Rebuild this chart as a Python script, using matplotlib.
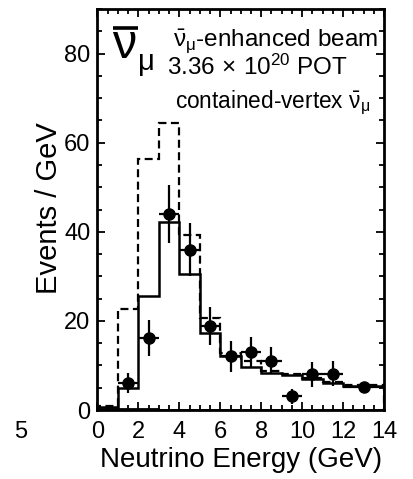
import numpy as np
import matplotlib
matplotlib.use("Agg")
import matplotlib.pyplot as plt
from matplotlib.ticker import MultipleLocator

plt.rcParams['font.family'] = ['Liberation Sans', 'DejaVu Sans']
plt.rcParams['mathtext.fontset'] = 'custom'
plt.rcParams['mathtext.rm'] = 'Liberation Sans'
plt.rcParams['mathtext.it'] = 'Liberation Sans'
plt.rcParams['mathtext.bf'] = 'Liberation Sans:bold'

# bin edges (GeV)
edges = [0, 1, 2, 3, 4, 5, 6, 7, 8, 9, 10, 11, 12, 14]
# best-fit prediction (solid)
fit_pred = [0.6, 5.0, 25.6, 42.1, 30.6, 17.4, 12.1, 9.7, 8.4, 7.8, 6.9, 6.0, 5.5]
# no-oscillation prediction (dashed)
no_osc = [0.9, 22.6, 56.4, 64.5, 39.4, 20.6, 12.7, 11.0, 8.8, 8.0, 7.2, 6.3, 5.7]
# background (near zero)
bkg = [0.3, 0.3, 0.2, 0.1, 0.1, 0.1, 0.1, 0.1, 0.1, 0.1, 0.1, 0.1, 0.1]

# data points
data_x = [1.5, 2.5, 3.5, 4.5, 5.5, 6.5, 7.5, 8.5, 9.5, 10.5, 11.5, 13.0]
data_xerr = [0.5, 0.5, 0.5, 0.5, 0.5, 0.5, 0.5, 0.5, 0.5, 0.5, 0.5, 1.0]
data_y = [6.1, 16.1, 44.1, 36.0, 18.9, 12.1, 13.1, 11.1, 3.1, 8.0, 8.1, 5.1]
data_yerr = [2.2, 4.0, 6.5, 6.0, 4.3, 3.5, 3.4, 3.1, 1.7, 2.8, 2.8, 1.2]

fig = plt.figure(figsize=(4.14, 4.79), dpi=100)
ax = fig.add_axes([0.2355, 0.144, 0.692, 0.837])

ax.stairs(bkg, edges, color='black', lw=1.3)
ax.stairs(no_osc, edges, color='black', lw=1.6, linestyle=(0, (3.6, 2.0)))
ax.stairs(fit_pred, edges, color='black', lw=1.8)
ax.errorbar(data_x, data_y, xerr=data_xerr, yerr=data_yerr, fmt='o',
            color='black', ms=8, elinewidth=1.6, capsize=0)

ax.set_xlim(0, 14)
ax.set_ylim(0, 90)
ax.xaxis.set_major_locator(MultipleLocator(2))
ax.xaxis.set_minor_locator(MultipleLocator(0.5))
ax.yaxis.set_major_locator(MultipleLocator(20))
ax.yaxis.set_minor_locator(MultipleLocator(5))
ax.tick_params(which='both', direction='in', top=True, right=True,
               labelsize=17, width=1.3)
ax.tick_params(axis='x', pad=8)
ax.tick_params(axis='y', pad=5)
ax.tick_params(which='major', length=6)
ax.tick_params(which='minor', length=3.5)
for s in ax.spines.values():
    s.set_linewidth(2.0)

ax.set_xlabel('Neutrino Energy (GeV)', fontsize=20, labelpad=3)
ax.set_ylabel('Events / GeV', fontsize=21)
ax.yaxis.set_label_coords(-0.12, 0.504)

# big nu-bar mu label
ax.text(0.052, 0.878, 'ν', transform=ax.transAxes, fontsize=35,
        ha='left', va='baseline')
ax.plot([0.055, 0.142], [0.953, 0.953], transform=ax.transAxes,
        color='black', lw=2.6, solid_capstyle='butt', clip_on=False)
ax.text(0.141, 0.848, 'μ', transform=ax.transAxes, fontsize=21,
        ha='left', va='baseline')

ax.text(0.979, 0.906, r'$\bar{\nu}_{\mu}$-enhanced beam', transform=ax.transAxes,
        fontsize=17.5, ha='right', va='baseline')
ax.text(0.243, 0.835, r'3.36$\,\times\,$10$^{20}$ POT', transform=ax.transAxes,
        fontsize=17.5, ha='left', va='baseline')
ax.text(0.951, 0.753, r'contained-vertex $\bar{\nu}_{\mu}$', transform=ax.transAxes,
        fontsize=16.3, ha='right', va='baseline')

fig.text(0.05, 0.098, '5', fontsize=17, ha='center', va='center')

fig.savefig('out.png', dpi=100)
